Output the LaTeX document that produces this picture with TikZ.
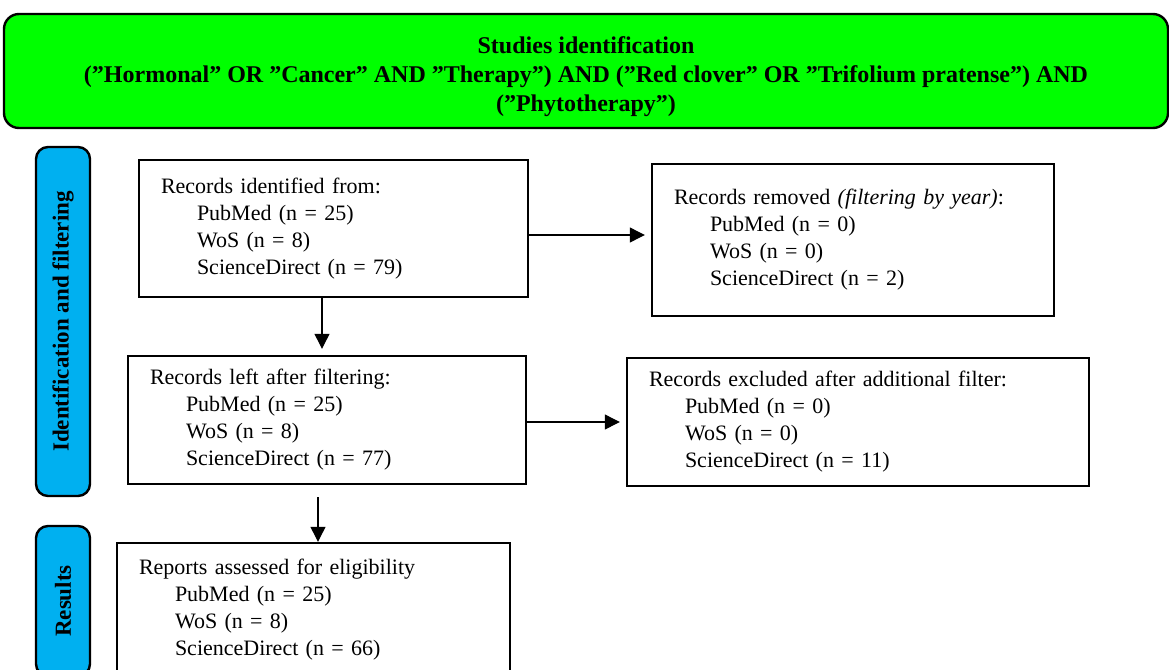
\documentclass[tikz,border=0pt]{standalone}
\usepackage{fontspec}
\setmainfont{Liberation Serif}
\usetikzlibrary{arrows.meta}

\definecolor{headgreen}{HTML}{00FF00}
\definecolor{sideblue}{HTML}{00B0F0}

\tikzset{
    header/.style={draw, line width=1.2pt, rounded corners=7.5pt, fill=headgreen,
        align=center, font=\bfseries\fontsize{12}{14.5}\selectfont},
    side/.style={draw, line width=1.2pt, rounded corners=6pt, fill=sideblue,
        rotate=90, font=\bfseries\fontsize{11.5}{14}\selectfont},
    record/.style={draw, line width=1.2pt, align=left, inner xsep=11pt,
        font=\fontsize{11}{13.5}\selectfont},
    flow/.style={line width=0.6pt, -{Triangle[width=7.5pt,length=7.5pt]}},
}
\newcommand{\src}{\hspace*{18pt}}

\begin{document}
\begin{tikzpicture}[x=0.5pt, y=-0.5pt]
    \useasboundingbox (0,0) rectangle (1169,670);
    \clip (0,0) rectangle (1169,670);

    % Header
    \node[header, minimum width=582pt, minimum height=57pt] (head) at (586,71)
        {\rule{0pt}{14pt}Studies identification\\
         (”Hormonal” OR ”Cancer” AND ”Therapy”) AND (”Red clover” OR ”Trifolium pratense”) AND\\
         (”Phytotherapy”)};

    % Side labels
    \node[side, minimum width=174.5pt, minimum height=27pt] (sidea) at (63,321.5)
        {Identification and filtering};
    \node[side, minimum width=75pt, minimum height=27pt] (sideb) at (63,601)
        {Results};

    % Identification
    \node[record, text width=172.5pt, minimum height=68.5pt] (ident) at (333.5,228.5)
        {Records identified from:\\
         \src PubMed (n = 25)\\
         \src WoS (n = 8)\\
         \src ScienceDirect (n = 79)};
    \node[record, text width=179pt, minimum height=76pt] (removed) at (853,240)
        {Records removed \textit{(filtering by year)}:\\
         \src PubMed (n = 0)\\
         \src WoS (n = 0)\\
         \src ScienceDirect (n = 2)};

    % Filtering
    \node[record, text width=177pt, minimum height=64pt] (left) at (327,420)
        {Records left after filtering:\\
         \src PubMed (n = 25)\\
         \src WoS (n = 8)\\
         \src ScienceDirect (n = 77)};
    \node[record, text width=209pt, minimum height=64pt] (excluded) at (858,422)
        {Records excluded after additional filter:\\
         \src PubMed (n = 0)\\
         \src WoS (n = 0)\\
         \src ScienceDirect (n = 11)};

    % Results
    \node[record, text width=174.5pt, minimum height=67pt] (reports) at (313.5,610)
        {Reports assessed for eligibility\\
         \src PubMed (n = 25)\\
         \src WoS (n = 8)\\
         \src ScienceDirect (n = 66)};

    % Connectors
    \coordinate (rowa) at (0,235);
    \coordinate (cola) at (322,0);
    \coordinate (colb) at (318,0);
    \draw[flow, shorten >=3pt] (ident.east |- rowa) -- (removed.west |- rowa);
    \draw[flow, shorten >=3pt] (ident.south -| cola) -- (left.north -| cola);
    \draw[flow, shorten >=3pt] (left.east |- excluded.west) -- (excluded.west);
    \draw[flow, shorten <=6pt] (left.south -| colb) -- (reports.north -| colb);
\end{tikzpicture}
\end{document}
